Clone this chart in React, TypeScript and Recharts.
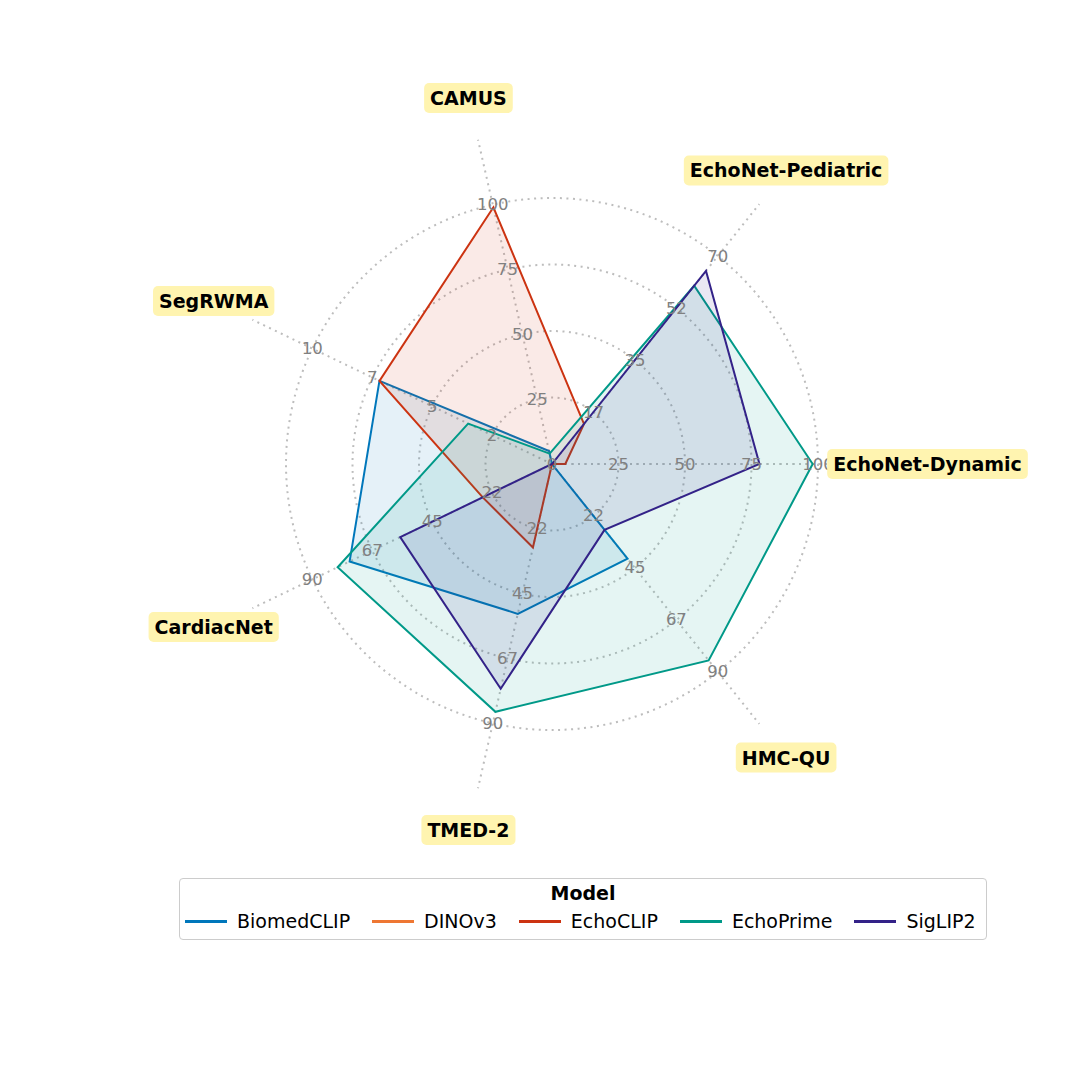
import React, { useLayoutEffect, useRef, useState } from "react";
import {
  RadarChart,
  Radar,
  PolarGrid,
  PolarAngleAxis,
  PolarRadiusAxis,
  Legend,
} from "recharts";

const datasets = [
  "EchoNet-Dynamic",
  "EchoNet-Pediatric",
  "CAMUS",
  "SegRWMA",
  "CardiacNet",
  "TMED-2",
  "HMC-QU",
];
// each axis has its own scale; the outer ring is the max
const axisMax = [100, 70, 100, 10, 90, 90, 90];
const tickLabels = [
  ["25", "50", "75", "100"],
  ["17", "35", "52", "70"],
  ["25", "50", "75", "100"],
  ["2", "5", "7", "10"],
  ["22", "45", "67", "90"],
  ["22", "45", "67", "90"],
  ["22", "45", "67", "90"],
];

const models = ["BiomedCLIP", "DINOv3", "EchoCLIP", "EchoPrime", "SigLIP2"];
const colors = ["#0077BB", "#EE7733", "#CC3311", "#009988", "#332288"];

const biomedclip = [0, 0, 5, 7.2, 76, 52, 41];
const dinov3 = [0, 0, 0, 0, 0, 0, 0];
const echoclip = [5, 13.5, 99, 7.2, 26, 29, 0];
const echoprime = [98, 60, 4, 3.5, 80.5, 86, 85];
const siglip2 = [78, 65, 0, 0, 57, 78, 28.5];
const seriesValues = [biomedclip, dinov3, echoclip, echoprime, siglip2];

const ringFractions = [0.25, 0.5, 0.75, 1];
const R_DOMAIN = 1.25;

const CX = 552;
const CY = 464;
const OUTER = 332.5;

const rows = datasets.map((name, i) => {
  const row: any = { idx: i, dataset: name };
  models.forEach((m, j) => {
    row[m] = seriesValues[j][i] / axisMax[i];
  });
  return row;
});

// category label with yellow box, plus that axis' own ring labels
const AxisLabel = (props: any) => {
  const { x, y, payload } = props;
  const cx = typeof props.cx === "number" ? props.cx : CX;
  const cy = typeof props.cy === "number" ? props.cy : CY;
  const radius = typeof props.radius === "number" ? props.radius : OUTER;
  const idx = Math.round(Number(payload.value));
  const name = datasets[idx];
  const ref = useRef<SVGTextElement>(null);
  const [w, setW] = useState(0);
  useLayoutEffect(() => {
    if (ref.current) setW(ref.current.getComputedTextLength());
  }, [name]);
  if (!name) return <g />;

  const dx = x - cx;
  const dy = y - cy;
  const len = Math.sqrt(dx * dx + dy * dy) || 1;
  const ux = dx / len;
  const uy = dy / len;

  return (
    <g>
      {ringFractions.map((f, k) => {
        const r = (f / R_DOMAIN) * radius;
        return (
          <text
            key={k}
            x={cx + ux * r}
            y={cy + uy * r}
            textAnchor="middle"
            dominantBaseline="central"
            fill="#808080"
            fontSize={16.5}
          >
            {tickLabels[idx][k]}
          </text>
        );
      })}
      {idx === 2 && (
        <text
          x={cx}
          y={cy}
          textAnchor="middle"
          dominantBaseline="central"
          fill="#808080"
          fontSize={16.5}
        >
          0
        </text>
      )}
      {w > 0 && (
        <rect
          x={x - w / 2 - 6}
          y={y - 15}
          width={w + 12}
          height={30}
          rx={5}
          fill="#FFF4B0"
        />
      )}
      <text
        ref={ref}
        x={x}
        y={y}
        textAnchor="middle"
        dominantBaseline="central"
        fontWeight="bold"
        fontSize={19}
        fill="#000"
      >
        {name}
      </text>
    </g>
  );
};

const renderLegend = (props: any) => {
  const { payload } = props;
  return (
    <div
      style={{
        boxSizing: "border-box",
        width: 808,
        height: 62,
        border: "1px solid #cccccc",
        borderRadius: 4,
        background: "#fff",
        color: "#000",
      }}
    >
      <div
        style={{
          textAlign: "center",
          fontWeight: "bold",
          fontSize: 19,
          lineHeight: "22px",
          marginTop: 3,
        }}
      >
        Model
      </div>
      <div
        style={{
          display: "flex",
          alignItems: "center",
          paddingLeft: 5,
          marginTop: 6,
        }}
      >
        {payload.map((item: any) => (
          <div
            key={item.value}
            style={{ display: "flex", alignItems: "center", marginRight: 22 }}
          >
            <span
              style={{
                display: "inline-block",
                width: 42,
                height: 3,
                background: colors[models.indexOf(item.value)],
                marginRight: 10,
              }}
            />
            <span style={{ fontSize: 19, lineHeight: "22px" }}>
              {item.value}
            </span>
          </div>
        ))}
      </div>
    </div>
  );
};

export default function App() {
  return (
    <div
      style={{
        position: "absolute",
        left: 0,
        top: 0,
        width: 1080,
        height: 1080,
        background: "#fff",
        fontFamily: "DejaVu Sans",
      }}
    >
      <RadarChart
        width={1080}
        height={1080}
        data={rows}
        cx={CX}
        cy={CY}
        outerRadius={OUTER}
        startAngle={0}
        endAngle={360}
        margin={{ top: 0, right: 0, bottom: 0, left: 0 }}
      >
        <PolarGrid
          gridType="circle"
          polarRadius={ringFractions.map((f) => (f / R_DOMAIN) * OUTER)}
          stroke="#bdbdbd"
          strokeWidth={2}
          strokeDasharray="2 4.5"
        />
        <PolarRadiusAxis
          domain={[0, R_DOMAIN]}
          type="number"
          axisLine={false}
          tick={false}
        />
        {models.map((m, j) => (
          <Radar
            key={m}
            dataKey={m}
            name={m}
            stroke={colors[j]}
            fill={colors[j]}
            fillOpacity={0.1}
            strokeWidth={2}
            dot={false}
            isAnimationActive={false}
          />
        ))}
        <PolarAngleAxis
          dataKey="idx"
          type="number"
          domain={[0, datasets.length]}
          tickCount={datasets.length + 1}
          allowDecimals={false}
          tickLine={false}
          axisLine={false}
          tickSize={43}
          tick={(p: any) => <AxisLabel {...p} />}
        />
        <Legend
          verticalAlign="bottom"
          content={renderLegend}
          wrapperStyle={{ left: 179, top: 878, bottom: "auto", width: 808 }}
        />
      </RadarChart>
    </div>
  );
}
